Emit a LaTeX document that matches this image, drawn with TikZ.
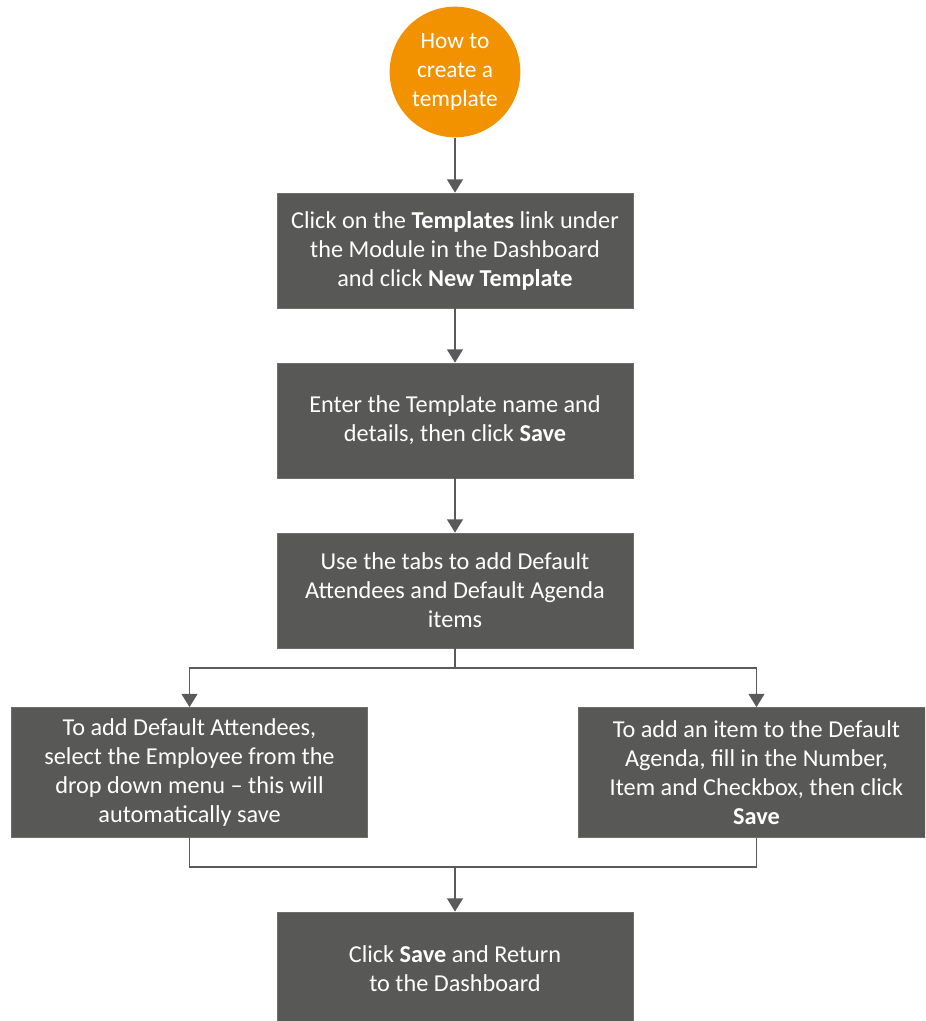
\documentclass[tikz,border=0pt]{standalone}
\usepackage{fontspec}
\setmainfont{Carlito}
\usetikzlibrary{arrows.meta}
\definecolor{stepgray}{HTML}{585857}
\definecolor{stepedge}{HTML}{6E6E6E}
\definecolor{linkgray}{HTML}{5A5A5A}
\definecolor{startorange}{HTML}{F39200}
\begin{document}
\begin{tikzpicture}[x=0.75pt,y=-0.75pt,
  stepbox/.style={rectangle, fill=stepgray, draw=stepedge, line width=0.6pt,
    text=white, align=center, font=\fontsize{18.2}{21.8}\selectfont,
    minimum width=267pt, inner sep=0pt},
  startnode/.style={circle, fill=startorange, draw=none, text=white,
    align=center, font=\fontsize{17.5}{21.8}\selectfont,
    minimum size=98pt, inner sep=0pt},
  link/.style={draw=linkgray, line width=1.1pt},
  arrow/.style={link, -{Triangle[length=10pt,width=12pt]}}]
\useasboundingbox (0,0) rectangle (925,1021);
\begin{scope}
\clip (0,0) rectangle (925,1021);
\node[startnode] (start) at (455,72) {How to\\create a\\template};
\node[stepbox, minimum height=86.25pt] (s1) at (455,250.5)
  {Click on the \textbf{Templates} link under\\the Module in the Dashboard\\ and click \textbf{New Template}};
\node[stepbox, minimum height=86.25pt] (s2) at (455,420.5)
  {Enter the Template name and\\details, then click \textbf{Save}};
\node[stepbox, minimum height=86.25pt] (s3) at (455,590.5)
  {Use the tabs to add Default\\Attendees and Default Agenda\\items};
\node[stepbox, minimum height=97.5pt] (left) at (189.5,772.5)
  {To add Default Attendees,\\select the Employee from the\\drop down menu – this will\\automatically save};
\node[stepbox, minimum height=97.5pt] (right) at (756.5,772.5)
  {To add an item to the Default\\Agenda, fill in the Number,\\Item and Checkbox, then click\\\textbf{Save}};
\node[stepbox, minimum height=85.5pt] (last) at (455,969)
  {Click \textbf{Save} and Return\\to the Dashboard};
\end{scope}
\coordinate (split) at (455,668);
\coordinate (merge) at (455,867);
\draw[arrow] (start) -- (s1);
\draw[arrow] (s1) -- (s2);
\draw[arrow] (s2) -- (s3);
\draw[link] (s3) -- (split);
\draw[arrow] (split) -| (left);
\draw[arrow] (split) -| (right);
\draw[link] (left.south) |- (merge) -| (right.south);
\draw[arrow] (merge) -- (last);
\end{tikzpicture}
\end{document}
